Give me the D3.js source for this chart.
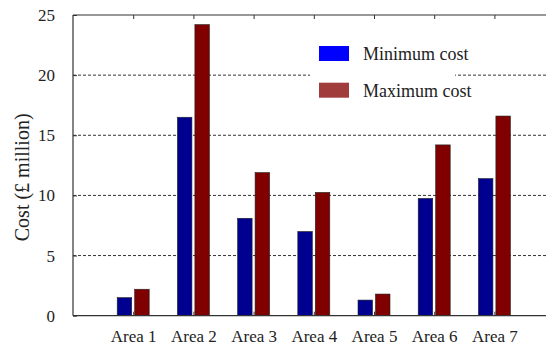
<!DOCTYPE html>
<html><head><meta charset="utf-8">
<script src="https://cdn.jsdelivr.net/npm/d3@7"></script>
<style>
html,body{margin:0;padding:0;background:#fff;overflow:hidden}
</style></head>
<body><svg id="c" width="546" height="347"></svg>
<script>
const categories = ["Area 1","Area 2","Area 3","Area 4","Area 5","Area 6","Area 7"];
const minCost = [1.5, 16.5, 8.1, 7.0, 1.3, 9.75, 11.4];
const maxCost = [2.2, 24.2, 11.9, 10.25, 1.8, 14.2, 16.6];
const seriesNames = ["Minimum cost","Maximum cost"];
const yTicks = [0,5,10,15,20,25];
const gridTicks = [5,10,15,20];

const FONT = "Liberation Serif";
const svg = d3.select("#c");
const L = 73, T = 15, B = 315.7, R = 554.6;
const x = d3.scaleLinear().domain([0, 8]).range([L, R]);
const y = d3.scaleLinear().domain([0, 25]).range([B, T]);
const sub = d3.scaleBand().domain(seriesNames).range([-16, 16]).paddingInner(0.17);
const barFill = ["#000090", "#800000"];
const legendFill = ["#0000ff", "#a03c3c"];

svg.append("g").selectAll("line").data(gridTicks).join("line")
  .attr("x1", L).attr("x2", 546).attr("y1", d => y(d)).attr("y2", d => y(d))
  .attr("stroke", "#333").attr("stroke-width", 1).attr("stroke-dasharray", "3,2");

svg.append("rect").attr("x", 310).attr("y", 38).attr("width", 145).attr("height", 68).attr("fill", "#fff");

const data = categories.map((c, i) => ({c, i, vals: [minCost[i], maxCost[i]]}));
const g = svg.append("g");
data.forEach(d => {
  d.vals.forEach((v, k) => {
    g.append("rect")
      .attr("x", x(d.i + 1) + sub(seriesNames[k]))
      .attr("width", sub.bandwidth())
      .attr("y", y(v))
      .attr("height", y(0) - y(v))
      .attr("fill", barFill[k])
      .attr("stroke", "#222").attr("stroke-width", 0.6);
  });
});

const xb = d3.axisBottom(x).tickValues(d3.range(1, 8)).tickSize(-4).tickFormat(d => categories[d - 1]).tickPadding(14);
const xa = svg.append("g").attr("transform", `translate(0,${B})`).call(xb);
xa.attr("font-family", FONT).attr("font-size", 17);
xa.select(".domain").remove();
xa.selectAll(".tick line").attr("stroke", "#333");
xa.selectAll("text").attr("fill", "#222");
svg.append("line").attr("x1", L).attr("x2", 546).attr("y1", B).attr("y2", B).attr("stroke", "#333").attr("stroke-width", 1.2);

const xt = d3.axisTop(x).tickValues(d3.range(1, 8)).tickSize(-4).tickFormat("");
const xta = svg.append("g").attr("transform", `translate(0,${T})`).call(xt);
xta.select(".domain").remove();
xta.selectAll(".tick line").attr("stroke", "#333");
svg.append("line").attr("x1", L).attr("x2", 546).attr("y1", T).attr("y2", T).attr("stroke", "#333").attr("stroke-width", 1.2);

const ya = svg.append("g").attr("transform", `translate(${L},0)`)
  .call(d3.axisLeft(y).tickValues(yTicks).tickSize(-4).tickPadding(18));
ya.attr("font-family", FONT).attr("font-size", 17);
ya.select(".domain").remove();
ya.selectAll(".tick line").attr("stroke", "#333");
ya.selectAll("text").attr("fill", "#222");
svg.append("line").attr("x1", L).attr("x2", L).attr("y1", T).attr("y2", B).attr("stroke", "#333").attr("stroke-width", 1.2);

svg.append("text").attr("transform", `translate(29,${(T + B) / 2 + 12}) rotate(-90)`)
  .attr("text-anchor", "middle").attr("font-size", 20).attr("font-family", FONT).attr("fill", "#222").text("Cost (£ million)");

seriesNames.forEach((s, k) => {
  const yy = 46 + k * 36.7;
  svg.append("rect").attr("x", 319).attr("y", yy).attr("width", 30).attr("height", 15).attr("fill", legendFill[k]);
  svg.append("text").attr("x", 363).attr("y", yy + 14).attr("font-size", 18).attr("font-family", FONT).attr("fill", "#222").text(s);
});
</script></body></html>
